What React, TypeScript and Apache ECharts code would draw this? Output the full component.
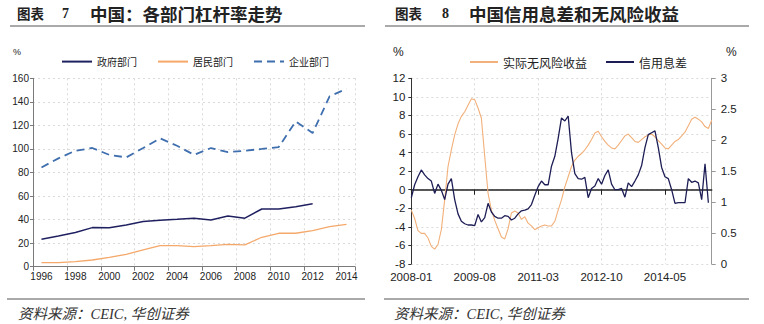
import React, { useEffect, useRef } from 'react';
import * as echarts from 'echarts';

// ---------- Chart 7 data ----------
const years = ['1996', '1997', '1998', '1999', '2000', '2001', '2002', '2003', '2004', '2005', '2006', '2007', '2008', '2009', '2010', '2011', '2012', '2013', '2014'];
const govLeverage = [23.3, 26, 29, 33.2, 33, 35.5, 38.3, 39.5, 40.3, 41.2, 39.7, 43, 41.2, 49, 49, 51, 53.4, null, null];
const householdLeverage = [3.4, 3.4, 4.3, 5.7, 8, 10.5, 14.2, 17.9, 17.9, 17, 17.9, 19, 18.5, 25, 28.4, 28.4, 30.6, 34, 36];
const corporateLeverage = [84.3, 92, 98.5, 100.8, 95, 92.8, 100.8, 109, 102.7, 95, 100.8, 97.3, 98.5, 100, 101.6, 123.4, 113.5, 144.7, 151];
const leverageNames = ['政府部门', '居民部门', '企业部门'];

// ---------- Chart 8 data ----------
const monthStart = { year: 2008, month: 1 };
const monthCount = 91; // 2008-01 .. 2015-07
const months: string[] = [];
for (let k = 0; k < monthCount; k++) {
  const y = monthStart.year + Math.floor((monthStart.month - 1 + k) / 12);
  const m = ((monthStart.month - 1 + k) % 12) + 1;
  months.push(`${y}-${m < 10 ? '0' + m : m}`);
}
// left axis (%)
const realRiskFreeYield = [
  -2.2, -3.1, -4.4, -4.7, -4.7, -5.2, -6.1, -6.4, -5.9, -4.3,
  -1.1, 2.5, 4.3, 5.9, 7.1, 7.9, 8.4, 9.1, 9.8, 9.7,
  8.8, 7.7, 3.6, -0.4, -2.2, -3.3, -4.2, -5.1, -5.3, -4.2,
  -2.5, -2.3, -2.5, -3.2, -2.9, -3.6, -3.9, -4.3, -4.1, -3.9,
  -3.8, -3.9, -3.9, -3.4, -2.2, -1.1, 0.3, 1.4, 2.5, 3.2,
  3.6, 3.9, 4.3, 4.8, 5.4, 6.1, 6.3, 5.7, 5.2, 4.8,
  4.5, 4.4, 4.8, 5.3, 5.8, 6.0, 5.6, 5.2, 5.1, 5.4,
  5.7, 5.9, 6.0, 5.7, 5.3, 4.9, 4.5, 4.4, 4.8, 5.2,
  5.4, 5.8, 6.2, 6.9, 7.6, 7.8, 7.6, 7.3, 6.8, 6.6,
  7.5,
];
// right axis (%)
const creditSpread = [
  1.07, 1.28, 1.41, 1.52, 1.44, 1.38, 1.34, 1.14, 1.29, 1.19,
  1.04, 1.29, 1.38, 1.04, 0.81, 0.69, 0.65, 0.63, 0.63, 0.62,
  0.80, 0.68, 0.75, 0.98, 0.84, 0.77, 0.74, 0.74, 0.78, 0.77,
  0.71, 0.74, 0.81, 0.86, 0.87, 0.89, 0.96, 1.11, 1.25, 1.34,
  1.28, 1.28, 1.58, 1.74, 2.03, 2.36, 2.31, 2.39, 1.80, 1.46,
  1.38, 1.37, 1.40, 1.07, 1.22, 1.26, 1.38, 1.29, 1.43, 1.52,
  1.29, 1.20, 1.20, 1.22, 1.08, 1.31, 1.25, 1.34, 1.44, 1.59,
  1.88, 2.09, 2.12, 2.15, 1.88, 1.56, 1.41, 1.38, 1.20, 0.98,
  0.99, 0.99, 0.99, 1.38, 1.32, 1.34, 1.31, 1.04, 1.62, 0.99,
  null,
];
const spreadNames = ['实际无风险收益', '信用息差'];

const FONT = "'Liberation Sans', 'Noto Sans CJK SC', sans-serif";
const CJK = "'Noto Sans CJK SC', sans-serif";
const gridLine = { show: true, lineStyle: { color: '#dadada', type: [2, 3] as any, width: 1 } };

export default function App() {
  const ref = useRef<HTMLDivElement>(null);
  useEffect(() => {
    if (!ref.current) return;
    const chart = echarts.init(ref.current, undefined, { renderer: 'svg' });
    const titleText = (x: number, text: string, size: number, family = CJK) => ({
      type: 'text', x, y: 13, style: { text, fill: '#222', fontSize: size, fontWeight: 'bold', fontFamily: family, verticalAlign: 'middle' },
    });
    chart.setOption({
      animation: false,
      backgroundColor: '#ffffff',
      textStyle: { fontFamily: FONT },
      grid: [
        { left: 33, top: 78.3, width: 322, height: 188.4 },
        { left: 411.3, top: 78.3, width: 300.4, height: 185.7 },
      ],
      legend: [
        {
          data: leverageNames, left: 56, top: 51, itemWidth: 30, itemHeight: 14, itemGap: 20,
          itemStyle: { opacity: 0 },
          textStyle: { fontSize: 10, color: '#222', fontFamily: CJK },
        },
        {
          data: spreadNames, left: 464, top: 51, itemWidth: 28, itemHeight: 14, itemGap: 18,
          itemStyle: { opacity: 0 },
          textStyle: { fontSize: 12, color: '#222', fontFamily: CJK },
        },
      ],
      xAxis: [
        {
          gridIndex: 0, type: 'category', data: years, boundaryGap: true,
          axisLine: { lineStyle: { color: '#7a7a7a', width: 1 } },
          axisTick: { show: true, interval: 1, length: 4, lineStyle: { color: '#7a7a7a' } },
          axisLabel: { interval: 1, fontSize: 10, color: '#222', margin: 5 },
          splitLine: { ...gridLine, interval: 1 },
        },
        {
          gridIndex: 1, type: 'category', data: months, boundaryGap: false, position: 'bottom',
          axisLine: { show: false, onZero: false },
          axisTick: { show: false },
          axisLabel: { interval: 18, fontSize: 11.5, color: '#222', margin: 7 },
          splitLine: { ...gridLine, interval: 18 },
        },
        {
          gridIndex: 1, type: 'category', data: months, boundaryGap: false, position: 'top',
          axisLine: { show: true, onZero: true, lineStyle: { color: '#222', width: 1.5 } },
          axisTick: { show: true, inside: true, interval: 18, length: 5, lineStyle: { color: '#222' } },
          axisLabel: { show: false },
          splitLine: { show: false },
        },
      ],
      yAxis: [
        {
          gridIndex: 0, type: 'value', min: 0, max: 160, interval: 20,
          axisLine: { show: true, lineStyle: { color: '#7a7a7a' } },
          axisTick: { show: true, length: 3, lineStyle: { color: '#7a7a7a' } },
          axisLabel: { fontSize: 10, color: '#222', margin: 4 },
          splitLine: gridLine,
        },
        {
          gridIndex: 1, type: 'value', min: -8, max: 12, interval: 2, position: 'left',
          axisLine: { show: true, lineStyle: { color: '#333' } },
          axisTick: { show: true, length: 3, lineStyle: { color: '#333' } },
          axisLabel: { fontSize: 11.5, color: '#222', margin: 6 },
          splitLine: gridLine,
        },
        {
          gridIndex: 1, type: 'value', min: 0, max: 3, interval: 0.5, position: 'right',
          axisLine: { show: true, lineStyle: { color: '#999' } },
          axisTick: { show: true, length: 4, lineStyle: { color: '#999' } },
          axisLabel: { fontSize: 11.5, color: '#222', margin: 9 },
          splitLine: { show: false },
        },
      ],
      series: [
        {
          name: leverageNames[0], type: 'line', xAxisIndex: 0, yAxisIndex: 0, data: govLeverage,
          symbol: 'none', lineStyle: { color: '#1f2060', width: 1.5 }, itemStyle: { color: '#1f2060' },
        },
        {
          name: leverageNames[1], type: 'line', xAxisIndex: 0, yAxisIndex: 0, data: householdLeverage,
          symbol: 'none', lineStyle: { color: '#f4a86a', width: 1.3 }, itemStyle: { color: '#f4a86a' },
        },
        {
          name: leverageNames[2], type: 'line', xAxisIndex: 0, yAxisIndex: 0, data: corporateLeverage,
          symbol: 'none', lineStyle: { color: '#3f6fae', width: 1.8, type: [8, 5] }, itemStyle: { color: '#3f6fae' },
        },
        {
          name: spreadNames[0], type: 'line', xAxisIndex: 1, yAxisIndex: 1, data: realRiskFreeYield,
          symbol: 'none', lineStyle: { color: '#f2b07a', width: 1.1 }, itemStyle: { color: '#f2b07a' },
        },
        {
          name: spreadNames[1], type: 'line', xAxisIndex: 1, yAxisIndex: 2, data: creditSpread,
          symbol: 'none', lineStyle: { color: '#1e1e56', width: 1.3 }, itemStyle: { color: '#1e1e56' },
        },
      ],
      graphic: [
        titleText(17, '图表', 13.5),
        titleText(62, '7', 14, "'Liberation Serif', serif"),
        titleText(90, '中国：各部门杠杆率走势', 17.5),
        titleText(395, '图表', 13.5),
        titleText(442, '8', 14, "'Liberation Serif', serif"),
        titleText(469, '中国信用息差和无风险收益', 17.5),
        { type: 'line', shape: { x1: 10, y1: 26, x2: 365, y2: 26 }, style: { stroke: '#555', lineWidth: 1 } },
        { type: 'line', shape: { x1: 385, y1: 26, x2: 749, y2: 26 }, style: { stroke: '#555', lineWidth: 1 } },
        { type: 'line', shape: { x1: 7, y1: 299, x2: 365, y2: 299 }, style: { stroke: '#555', lineWidth: 1 } },
        { type: 'line', shape: { x1: 384, y1: 299, x2: 749, y2: 299 }, style: { stroke: '#555', lineWidth: 1 } },
        { type: 'text', x: 13, y: 52, style: { text: '%', fill: '#222', fontSize: 9, fontFamily: FONT, verticalAlign: 'middle' } },
        { type: 'text', x: 393, y: 52, style: { text: '%', fill: '#222', fontSize: 12, fontFamily: FONT, verticalAlign: 'middle' } },
        { type: 'text', x: 726, y: 52, style: { text: '%', fill: '#222', fontSize: 12, fontFamily: FONT, verticalAlign: 'middle' } },
        { type: 'text', x: 18, y: 314, style: { text: '资料来源：CEIC, 华创证券', fill: '#333', fontSize: 14.5, fontStyle: 'italic', fontFamily: "'Liberation Serif', 'Noto Sans CJK SC', serif", verticalAlign: 'middle' } },
        { type: 'text', x: 394, y: 314, style: { text: '资料来源：CEIC, 华创证券', fill: '#333', fontSize: 14.5, fontStyle: 'italic', fontFamily: "'Liberation Serif', 'Noto Sans CJK SC', serif", verticalAlign: 'middle' } },
      ],
    });
    return () => chart.dispose();
  }, []);
  return <div ref={ref} style={{ position: 'fixed', left: 0, top: 0, width: 764, height: 324, background: '#fff' }} />;
}
